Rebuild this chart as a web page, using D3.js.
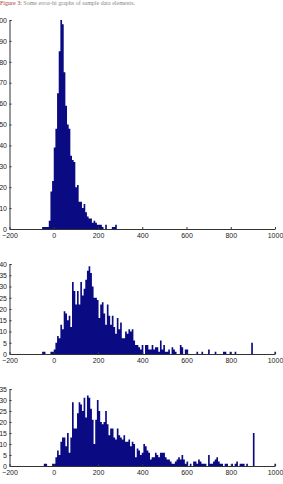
<!DOCTYPE html>
<html lang="en">
<head>
<meta charset="UTF-8">
<title>Error histograms</title>
<script src="https://d3js.org/d3.v7.min.js"></script>
<style>
  body { margin: 0; background: #fff; }
  svg { display: block; }
  .tick text { font-family: "Liberation Sans", Arial, sans-serif; font-size: 7px; fill: #222; }
  .domain, .tick line { stroke: #333; }
</style>
</head>
<body>
<svg id="chart" width="283" height="484"></svg>
<script>
// bins are 7.5 units wide, first bin starts at firstBin * binWidth
const binWidth = 7.5;
const firstBin = -7;

const xTicks = [-200, 0, 200, 400, 600, 800, 1000];

const hist1Counts = [
  1, 1, 1, 1, 4, 18, 23,
  39, 48, 65, 85, 100, 98, 75, 59, 50, 48,
  35, 33, 32, 20, 21, 13, 13, 10, 12, 8,
  6, 5, 5, 3, 4, 3, 2, 2, 2, 1,
  0, 2, 0, 0, 0, 1, 1, 2
];
const hist1Ticks = [0, 10, 20, 30, 40, 50, 60, 70, 80, 90, 100];

const hist2Counts = [
  1, 1, 0, 0, 0, 1, 1,
  2, 5, 8, 7, 13, 11, 19, 18, 15, 17,
  12, 32, 28, 22, 28, 22, 32, 26, 29, 33,
  37, 39, 36, 30, 25, 25, 24, 16, 22, 23,
  18, 13, 22, 17, 13, 17, 12, 9, 16, 11,
  14, 7, 7, 10, 9, 11, 10, 11, 6, 4,
  4, 3, 2, 4, 0, 4, 4, 2, 2, 4,
  2, 3, 3, 1, 6, 2, 4, 1, 1, 2,
  0, 3, 2, 1, 0, 0, 4, 3, 0, 2,
  2, 0, 0, 0, 0, 0, 1, 0, 0, 1,
  0, 0, 0, 2, 0, 0, 0, 1, 0, 0,
  0, 0, 1, 1, 0, 0, 1, 0, 0, 1,
  0, 0, 0, 0, 0, 0, 0, 0, 0, 5,
  0, 0, 0, 0, 0, 0, 0, 0, 0, 0,
  0, 0, 0, 1
];
const hist2Ticks = [0, 5, 10, 15, 20, 25, 30, 35, 40];

const hist3Counts = [
  0, 1, 1, 0, 0, 0, 1,
  1, 4, 7, 5, 11, 13, 13, 9, 15, 6,
  13, 29, 17, 17, 24, 29, 28, 25, 31, 22,
  32, 31, 26, 21, 10, 21, 30, 25, 20, 19,
  20, 25, 19, 14, 17, 17, 13, 12, 17, 14,
  13, 12, 14, 11, 11, 12, 9, 11, 10, 4,
  8, 7, 5, 6, 10, 9, 7, 6, 3, 4,
  4, 6, 5, 4, 6, 6, 6, 4, 3, 3,
  2, 1, 1, 2, 3, 4, 3, 5, 3, 1,
  2, 0, 1, 0, 2, 2, 1, 3, 2, 1,
  1, 1, 0, 5, 1, 1, 2, 3, 4, 2,
  1, 1, 0, 1, 1, 0, 0, 1, 0, 1,
  2, 0, 1, 1, 1, 0, 1, 0, 0, 0,
  15, 0, 0, 0, 0, 0, 0, 0, 0, 0,
  0, 0, 0, 1
];
const hist3Ticks = [0, 5, 10, 15, 20, 25, 30, 35];

const svg = d3.select("#chart");

// caption at the very top of the scan
const cap = svg.append("text")
  .attr("x", 0).attr("y", 5)
  .style("font-family", "Liberation Serif, serif")
  .style("font-size", "6px");
cap.append("tspan").attr("fill", "#a8383a").text("Figure 3: ");
cap.append("tspan").attr("fill", "#888").text("Some error-hi graphs of sample data elements.");

const x = d3.scaleLinear().domain([-200, 1000]).range([9.5, 275]);

function drawHist(counts, yMax, yTicks, top, bottom) {
  const y = d3.scaleLinear().domain([0, yMax]).range([bottom, top]);
  const g = svg.append("g");

  // step outline of all bins, closing bin added at the end
  const pts = counts.map((c, i) => ({ x0: (firstBin + i) * binWidth, count: c }));
  pts.push({ x0: (firstBin + counts.length) * binWidth, count: 0 });

  const area = d3.area()
    .curve(d3.curveStepAfter)
    .x(d => x(d.x0))
    .y0(y(0))
    .y1(d => y(d.count));

  g.append("path")
    .datum(pts)
    .attr("d", area)
    .attr("fill", "#0a0a82");

  g.append("g")
    .attr("transform", `translate(0,${bottom})`)
    .call(d3.axisBottom(x).tickValues(xTicks).tickSize(-2).tickSizeOuter(0).tickPadding(4)
      .tickFormat(d => d < 0 ? "\u2212" + Math.abs(d) : d));

  g.append("g")
    .attr("transform", `translate(${x(-200)},0)`)
    .call(d3.axisLeft(y).tickValues(yTicks).tickSize(-2).tickSizeOuter(-2).tickPadding(2.5));
}

drawHist(hist1Counts, 100, hist1Ticks, 20, 229);
drawHist(hist2Counts, 40, hist2Ticks, 264, 354);
drawHist(hist3Counts, 35, hist3Ticks, 389, 466);
</script>
</body>
</html>
